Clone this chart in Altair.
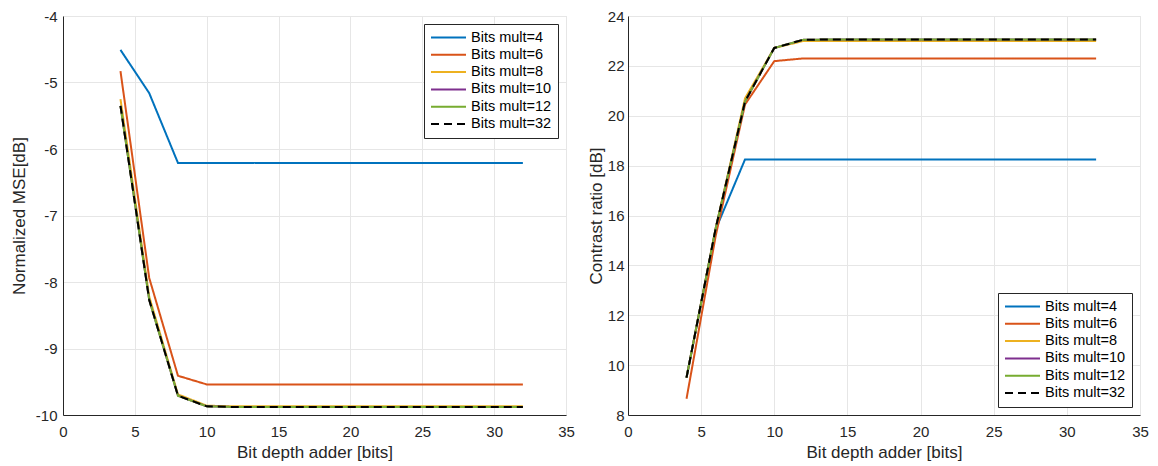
import altair as alt
import pandas as pd

x_bits = [4, 6, 8, 10, 12, 16, 20, 24, 28, 32]
series_names = ["Bits mult=4", "Bits mult=6", "Bits mult=8", "Bits mult=10", "Bits mult=12", "Bits mult=32"]

mse_4 = [-4.51, -5.16, -6.21, -6.21, -6.21, -6.21, -6.21, -6.21, -6.21, -6.21]
mse_6 = [-4.83, -7.94, -9.41, -9.54, -9.54, -9.54, -9.54, -9.54, -9.54, -9.54]
mse_8 = [-5.25, -8.22, -9.69, -9.86, -9.87, -9.87, -9.87, -9.87, -9.87, -9.87]
mse_10 = [-5.35, -8.27, -9.71, -9.87, -9.88, -9.88, -9.88, -9.88, -9.88, -9.88]
mse_12 = [-5.35, -8.27, -9.71, -9.87, -9.88, -9.88, -9.88, -9.88, -9.88, -9.88]
mse_32 = [-5.35, -8.27, -9.71, -9.87, -9.88, -9.88, -9.88, -9.88, -9.88, -9.88]

cr_4 = [9.5, 15.45, 18.25, 18.25, 18.25, 18.25, 18.25, 18.25, 18.25, 18.25]
cr_6 = [8.65, 15.2, 20.45, 22.19, 22.3, 22.3, 22.3, 22.3, 22.3, 22.3]
cr_8 = [9.5, 15.5, 20.7, 22.72, 23.0, 23.0, 23.0, 23.0, 23.0, 23.0]
cr_10 = [9.5, 15.5, 20.57, 22.72, 23.05, 23.06, 23.06, 23.06, 23.06, 23.06]
cr_12 = [9.5, 15.5, 20.57, 22.72, 23.05, 23.06, 23.06, 23.06, 23.06, 23.06]
cr_32 = [9.5, 15.5, 20.57, 22.72, 23.05, 23.06, 23.06, 23.06, 23.06, 23.06]

colors = ["#0072BD", "#D95319", "#EDB120", "#7E2F8E", "#77AC30", "#000000"]
dashes = [[1, 0], [1, 0], [1, 0], [1, 0], [1, 0], [8, 5]]


def build(series_list):
    rows = []
    for k, (name, vals) in enumerate(zip(series_names, series_list)):
        for xv, yv in zip(x_bits, vals):
            rows.append({"x": xv, "y": yv, "series": name, "k": k})
    return pd.DataFrame(rows)


df_mse = build([mse_4, mse_6, mse_8, mse_10, mse_12, mse_32])
df_cr = build([cr_4, cr_6, cr_8, cr_10, cr_12, cr_32])

color_scale = alt.Scale(domain=series_names, range=colors)
dash_scale = alt.Scale(domain=series_names, range=dashes)

axis_common = dict(
    grid=True, gridColor="#e6e6e6", domainColor="#262626", tickColor="#262626",
    ticks=False, labelColor="#262626", labelFontSize=15, titleFontSize=17,
    titleFontWeight="normal", titleColor="#262626", labelFont="Liberation Sans",
    titleFont="Liberation Sans", labelFlush=False, labelOverlap=False,
)


def panel(df, ydom, ytitle, yvals, legend_orient, width, ylabpad, ytitlepad):
    legend = alt.Legend(
        title=None, orient=legend_orient, fillColor="white", strokeColor="#262626",
        padding=6, labelFontSize=14.5, labelFont="Liberation Sans", labelColor="#000000",
        symbolType="stroke", symbolStrokeWidth=2, symbolSize=1225, rowPadding=1.3,
        clipHeight=15, labelOffset=4, offset=8, labelLimit=200,
    )
    return alt.Chart(df).mark_line(strokeWidth=2, clip=True).encode(
        x=alt.X("x:Q", scale=alt.Scale(domain=[0, 35], nice=False),
                axis=alt.Axis(title="Bit depth adder [bits]", values=[0, 5, 10, 15, 20, 25, 30, 35],
                              labelPadding=9, titlePadding=5, **axis_common)),
        y=alt.Y("y:Q", scale=alt.Scale(domain=ydom, nice=False, zero=False),
                axis=alt.Axis(title=ytitle, values=yvals, labelExpr="toString(datum.value)",
                              labelPadding=ylabpad, titlePadding=ytitlepad, **axis_common)),
        color=alt.Color("series:N", scale=color_scale, sort=series_names, legend=legend),
        strokeDash=alt.StrokeDash("series:N", scale=dash_scale, sort=series_names, legend=legend),
        order=alt.Order("k:Q"),
        detail="k:N",
    ).properties(width=width, height=399)


left = panel(df_mse, [-10, -4], "Normalized MSE[dB]", [-10, -9, -8, -7, -6, -5, -4], "top-right", 503, 6, 7)
right = panel(df_cr, [8, 24], "Contrast ratio [dB]", [8, 10, 12, 14, 16, 18, 20, 22, 24], "bottom-right", 512, 4, 2)

chart = alt.hconcat(left, right, spacing=11).resolve_scale(color="independent", strokeDash="independent").configure_view(
    stroke="#262626", strokeWidth=1
).configure(background="white", padding={"left": 9, "top": 8, "right": 2, "bottom": 2})

chart.save("out.html", embed_options={"renderer": "svg", "actions": False})
